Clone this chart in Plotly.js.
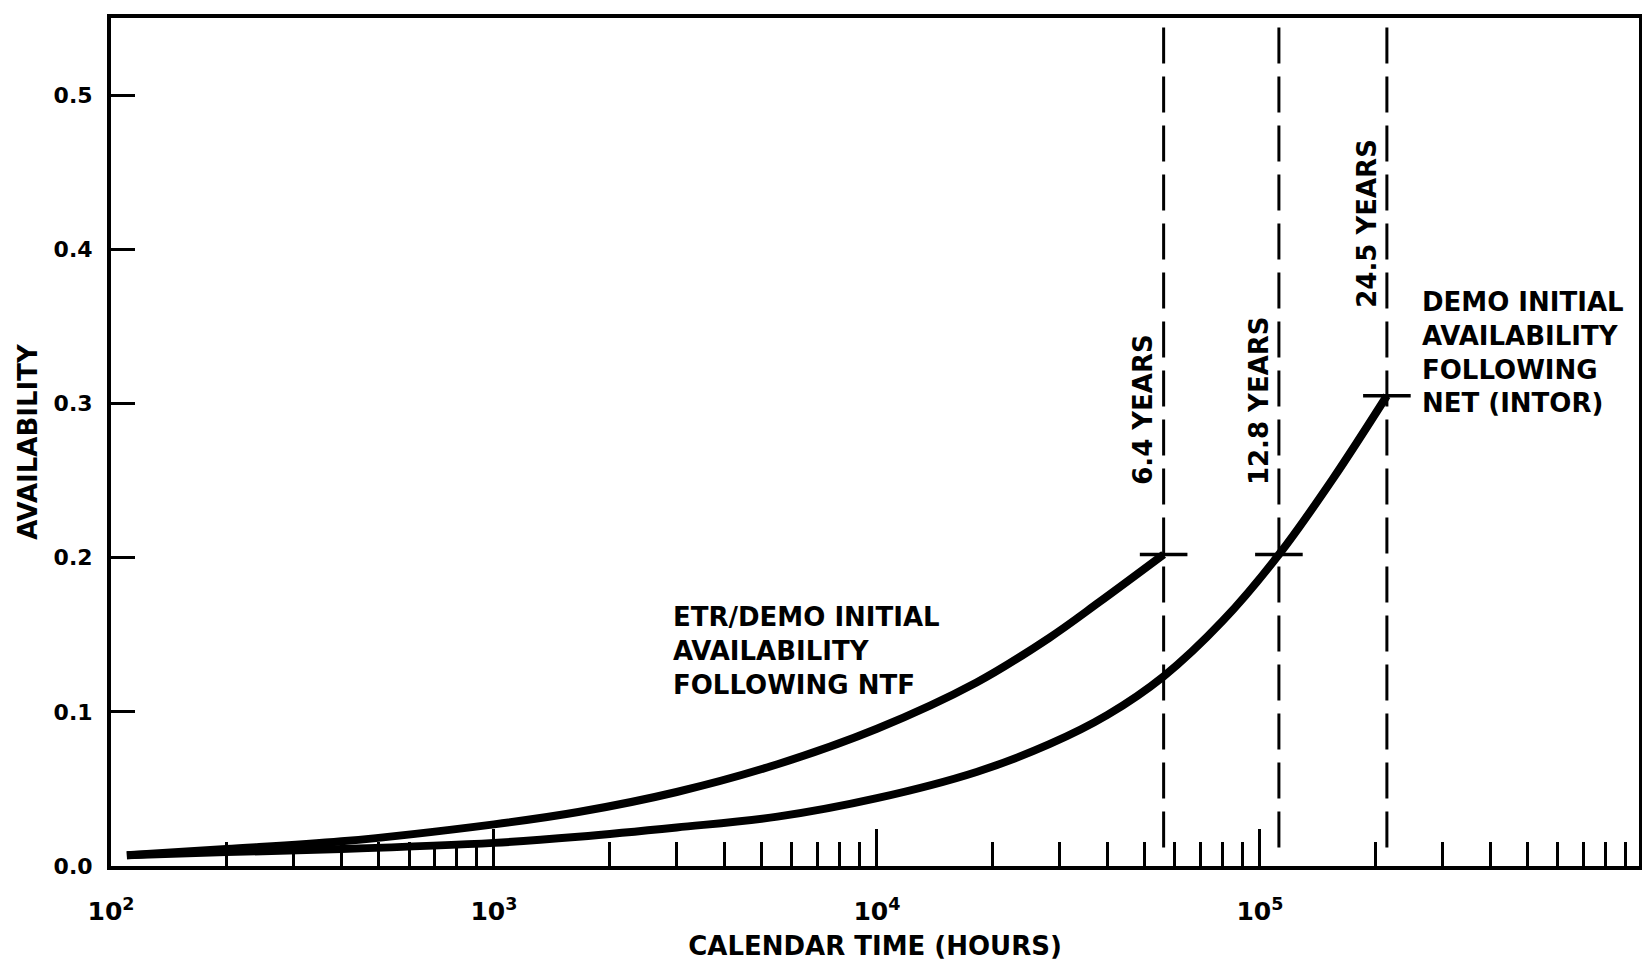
<!DOCTYPE html>
<html>
<head>
<meta charset="utf-8">
<script src="https://cdn.plot.ly/plotly-3.0.1.min.js"></script>
<style>
  html, body { margin: 0; padding: 0; background: #ffffff; }
  #chart { width: 1642px; height: 961px; }
</style>
</head>
<body>
<div id="chart"></div>
<script>
// ---- data ----
const HOURS_PER_YEAR = 8760;

// ETR/DEMO initial availability following NTF (upper curve)
const hoursNTF = [110, 200, 400, 1000, 1660, 3000, 5500, 10000, 18200, 28200, 38000, 56064];
const availNTF = [0.007, 0.011, 0.016, 0.027, 0.035, 0.048, 0.066, 0.089, 0.119, 0.148, 0.171, 0.202];

// DEMO initial availability following NET (INTOR) (lower curve)
const hoursNET = [110, 200, 400, 1000, 1660, 3000, 5500, 10000, 18200, 28200, 40000, 56064, 80000, 112128, 155000, 214620];
const availNET = [0.007, 0.009, 0.011, 0.015, 0.019, 0.025, 0.032, 0.044, 0.061, 0.079, 0.098, 0.123, 0.159, 0.202, 0.251, 0.305];

// time markers (years) and the availability reached at each marker
const markerYears = [6.4, 12.8, 24.5];
const markerLabels = ['6.4 YEARS', '12.8 YEARS', '24.5 YEARS'];
const markerAvail = [0.202, 0.202, 0.305];

// axis ticks
const xTickVals = [100, 1000, 10000, 100000];
const xTickText = ['10<sup>2</sup>', '10<sup>3</sup>', '10<sup>4</sup>', '10<sup>5</sup>'];
const yTickVals = [0.0, 0.1, 0.2, 0.3, 0.4, 0.5];
const yTickText = ['0.0', '0.1', '0.2', '0.3', '0.4', '0.5'];

// ---- layout constants ----
const Y_MAX = 0.55;
const DASH_BOTTOM = 0.012;
const FONT = 'DejaVu Sans, Liberation Sans, Arial, sans-serif';
const markerHours = markerYears.map(y => y * HOURS_PER_YEAR);
const labelBottoms = [0.246, 0.246, 0.361];

const traces = [];

// dashed vertical year lines
markerHours.forEach(h => {
  traces.push({
    x: [h, h], y: [DASH_BOTTOM, Y_MAX],
    mode: 'lines', type: 'scatter', hoverinfo: 'skip', showlegend: false,
    line: { color: '#000', width: 3, dash: '36px,13px' }
  });
});

traces.push({
  x: hoursNTF, y: availNTF, mode: 'lines', type: 'scatter', showlegend: false,
  line: { color: '#000', width: 8, shape: 'spline', smoothing: 1 }
});
traces.push({
  x: hoursNET, y: availNET, mode: 'lines', type: 'scatter', showlegend: false,
  line: { color: '#000', width: 8, shape: 'spline', smoothing: 1 }
});

// short horizontal marks where the curves meet the year lines
traces.push({
  x: markerHours, y: markerAvail, mode: 'markers', type: 'scatter', showlegend: false,
  marker: { symbol: 'line-ew', size: 34, color: '#000', line: { width: 3.5, color: '#000' } }
});

const annotations = [];
markerLabels.forEach((t, i) => {
  annotations.push({
    xref: 'x', yref: 'y',
    x: Math.log10(markerHours[i]),
    y: labelBottoms[i],
    xshift: -20,
    text: t, textangle: -90, showarrow: false,
    xanchor: 'center', yanchor: 'bottom',
    font: { family: FONT, size: 26, color: '#000', weight: 'bold' }
  });
});
annotations.push({
  xref: 'paper', yref: 'paper', x: 0.3665, y: 0.253,
  xanchor: 'left', yanchor: 'middle', align: 'left', showarrow: false,
  text: 'ETR/DEMO INITIAL<br>AVAILABILITY<br>FOLLOWING NTF',
  font: { family: FONT, size: 26, color: '#000', weight: 'bold' }
});
annotations.push({
  xref: 'paper', yref: 'paper', x: 0.857, y: 0.605,
  xanchor: 'left', yanchor: 'middle', align: 'left', showarrow: false,
  text: 'DEMO INITIAL<br>AVAILABILITY<br>FOLLOWING<br>NET (INTOR)',
  font: { family: FONT, size: 26, color: '#000', weight: 'bold' }
});

const layout = {
  width: 1642, height: 961,
  margin: { l: 111, r: 3, t: 18, b: 95 },
  paper_bgcolor: '#fff', plot_bgcolor: '#fff',
  showlegend: false,
  xaxis: {
    type: 'log', range: [2, 5.99],
    tickmode: 'array', tickvals: xTickVals, ticktext: xTickText,
    ticks: 'inside', ticklen: 37, tickwidth: 3, tickcolor: '#000',
    ticklabelstandoff: 20,
    minor: { ticks: 'inside', ticklen: 24, tickwidth: 3, tickcolor: '#000', dtick: 'D1', showgrid: false },
    showline: true, linewidth: 4, linecolor: '#000', mirror: true,
    showgrid: false, zeroline: false,
    tickfont: { family: FONT, size: 25, color: '#000', weight: 'bold' },
    title: { text: 'CALENDAR TIME (HOURS)', standoff: 16,
             font: { family: FONT, size: 26, color: '#000', weight: 'bold' } }
  },
  yaxis: {
    range: [0, Y_MAX],
    tickmode: 'array', tickvals: yTickVals, ticktext: yTickText,
    ticks: 'inside', ticklen: 24, tickwidth: 3, tickcolor: '#000',
    ticklabelstandoff: 10,
    showline: true, linewidth: 4, linecolor: '#000', mirror: true,
    showgrid: false, zeroline: false,
    tickfont: { family: FONT, size: 22, color: '#000', weight: 'bold' },
    title: { text: 'AVAILABILITY', standoff: 10,
             font: { family: FONT, size: 26, color: '#000', weight: 'bold' } }
  },
  annotations: annotations
};

Plotly.newPlot('chart', traces, layout, { displayModeBar: false, staticPlot: true });
</script>
</body>
</html>
